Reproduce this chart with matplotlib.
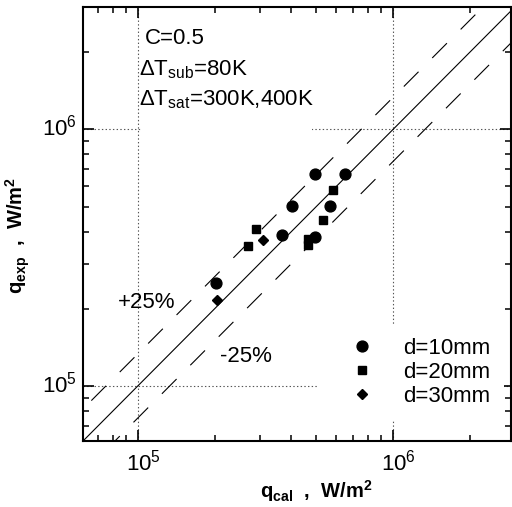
import numpy as np
import matplotlib
matplotlib.use("Agg")
import matplotlib.pyplot as plt
from matplotlib.patches import Rectangle
from matplotlib.transforms import ScaledTranslation

plt.rcParams['font.family'] = ['Liberation Sans', 'DejaVu Sans']
plt.rcParams['mathtext.fontset'] = 'custom'
plt.rcParams['mathtext.default'] = 'regular'
plt.rcParams['lines.scale_dashes'] = False
plt.rcParams['xtick.labelsize'] = 16
plt.rcParams['ytick.labelsize'] = 16

# data (W/m2)
d10_cal = [4.94e5, 6.48e5, 4.04e5, 5.66e5, 3.66e5, 4.97e5, 2.02e5]
d10_exp = [6.68e5, 6.68e5, 5.02e5, 5.02e5, 3.87e5, 3.80e5, 2.53e5]
d20_cal = [5.80e5, 5.33e5, 2.90e5, 2.71e5, 4.64e5, 4.64e5]
d20_exp = [5.83e5, 4.43e5, 4.11e5, 3.52e5, 3.73e5, 3.54e5]
d30_cal = [3.10e5, 2.04e5]
d30_exp = [3.72e5, 2.16e5]

ratio_hi = 1 / 0.75   # +25% line
ratio_lo = 0.75       # -25% line

xmin, xmax = 6.1e4, 2.9e6
ymin, ymax = 6.1e4, 3.0e6

fig = plt.figure(figsize=(5.12, 5.07), dpi=100)
ax = fig.add_axes([0.162, 0.130, 0.836, 0.856])
ax.set_xscale('log')
ax.set_yscale('log')
ax.set_xlim(xmin, xmax)
ax.set_ylim(ymin, ymax)

ax.grid(which='major', ls=':', lw=0.8, color='#555555', zorder=0)
ax.set_axisbelow(True)

# white area behind the condition text
ax.add_patch(Rectangle((0.135, 0.705), 0.40, 0.277, transform=ax.transAxes,
                       facecolor='white', edgecolor='none', zorder=1))

xx = np.array([xmin / 2, xmax * 2])
ax.plot(xx, xx, color='black', lw=0.8, zorder=2)
ax.plot(xx, xx * ratio_hi, color='black', lw=0.8, dashes=(15, 14), zorder=2)
ax.plot(xx, xx * ratio_lo, color='black', lw=0.8, dashes=(15, 14), zorder=2)

ax.plot(d10_cal, d10_exp, 'o', color='black', ms=7.8, ls='none', label='d=10mm', zorder=4)
ax.plot(d20_cal, d20_exp, 's', color='black', ms=5.3, ls='none', label='d=20mm', zorder=4)
ax.plot(d30_cal, d30_exp, 'D', color='black', ms=5.3, ls='none', label='d=30mm', zorder=4)

ax.text(0.1449, 0.9147, 'C=0.5', transform=ax.transAxes, fontsize=16, va='baseline', zorder=3)
ax.text(0.1308, 0.8433, 'ΔT$_{sub}$=80K', transform=ax.transAxes, fontsize=16, va='baseline', zorder=3)
ax.text(0.1308, 0.7742, 'ΔT$_{sat}$=300K,400K', transform=ax.transAxes, fontsize=16, va='baseline', zorder=3)

ax.text(8.35e4, 2.12e5, '+25%', fontsize=16, va='center', ha='left', zorder=3)
ax.text(2.10e5, 1.30e5, '-25%', fontsize=16, va='center', ha='left', zorder=3)

leg = ax.legend(loc='upper left', bbox_to_anchor=(0.549, 0.268), fontsize=16,
                frameon=True, fancybox=False, framealpha=1, borderpad=0.6,
                handlelength=2.8, handletextpad=0.45, labelspacing=0.13,
                borderaxespad=0)
leg.get_frame().set_edgecolor('none')
leg.get_frame().set_facecolor('white')
leg.set_zorder(5)

ax.tick_params(which='both', direction='in', top=True, right=True)
ax.tick_params(which='major', length=8, width=1.2)
ax.tick_params(which='minor', length=4.5, width=1.1)
ax.tick_params(axis='x', pad=6)
ax.tick_params(axis='y', pad=4)
for s in ax.spines.values():
    s.set_linewidth(1.5)

ax.set_xticks([1e5, 1e6])
ax.set_yticks([1e5, 1e6])
for lab in ax.get_xticklabels():
    lab.set_transform(lab.get_transform() + ScaledTranslation(4 / 72, 0, fig.dpi_scale_trans))
for lab in ax.get_yticklabels():
    lab.set_transform(lab.get_transform() + ScaledTranslation(0, 3 / 72, fig.dpi_scale_trans))

ax.set_xlabel('q$_{cal}$  ,  W/m$^2$', fontsize=14.5, fontweight='bold')
ax.set_ylabel('q$_{exp}$  ,  W/m$^2$', fontsize=14.5, fontweight='bold')
ax.xaxis.set_label_coords(0.5455, -0.085)
ax.yaxis.set_label_coords(-0.119, 0.4747)

fig.savefig('out.png', dpi=100)
